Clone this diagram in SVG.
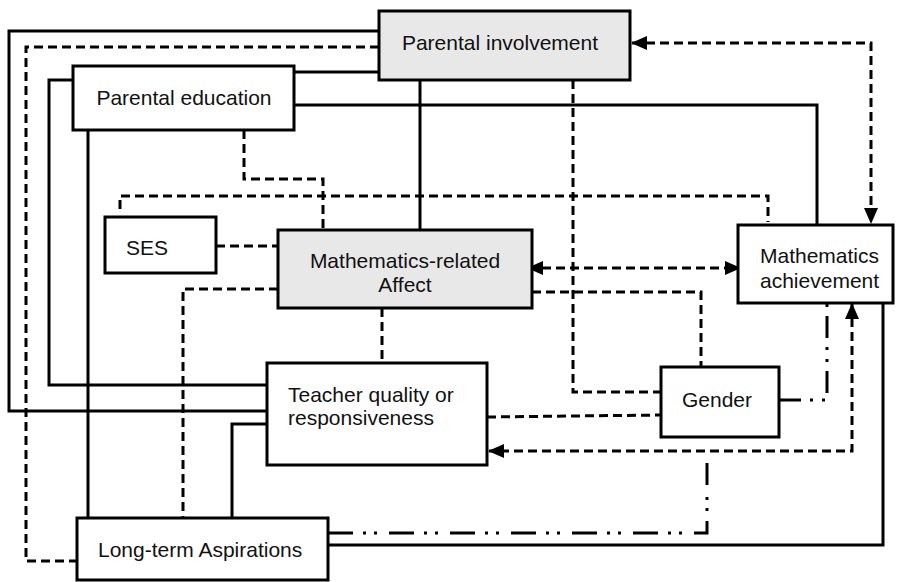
<svg xmlns="http://www.w3.org/2000/svg" width="898" height="582" viewBox="0 0 898 582">
<style>
  .box { fill: #ffffff; stroke: #000; stroke-width: 3; }
  .gray { fill: #e8e8e8; }
  .lbl { font-family: "Liberation Sans", Arial, sans-serif; font-size: 21px; fill: #111; }
  .solid { fill: none; stroke: #000; stroke-width: 3; }
  .dash { fill: none; stroke: #000; stroke-width: 3; stroke-dasharray: 9 5; }
  .dd { fill: none; stroke: #000; stroke-width: 3; stroke-dasharray: 22 9 3 9 3 9; }
  .ddd { fill: none; stroke: #000; stroke-width: 3; stroke-dasharray: 25 10 3 8 3 12; }
</style>
<defs>
  <marker id="arr" markerUnits="userSpaceOnUse" markerWidth="16" markerHeight="14" refX="15" refY="7" orient="auto-start-reverse">
    <path d="M0,0 L16,7 L0,14 Z" fill="#000"/>
  </marker>
</defs>
<rect width="898" height="582" fill="#fff"/>
<g id="connectors">
  <path class="solid" d="M379 31 H9 V411 H267"/>
  <path class="dash" d="M379 47 H26 V561 H77"/>
  <path class="solid" d="M294 72 H379"/>
  <path class="solid" d="M294 105 H817 V225"/>
  <path class="solid" d="M420 80 V230"/>
  <path class="dash" d="M573 80 V392 H661"/>
  <path class="dash" d="M632 43 H871 V223" marker-start="url(#arr)" marker-end="url(#arr)"/>
  <path class="solid" d="M73 80 H49 V385 H267"/>
  <path class="solid" d="M88 130 V518"/>
  <path class="dash" d="M244 130 V179 H323 V230"/>
  <path class="dash" d="M120 209 V196 H768 V222"/>
  <path class="dash" d="M216 246 H278"/>
  <path class="dash" d="M278 289 H183 V518"/>
  <path class="dash" d="M528 268 H740" marker-start="url(#arr)" marker-end="url(#arr)"/>
  <path class="dash" d="M532 292 H701 V367"/>
  <path class="dash" d="M382 308 V363"/>
  <path class="dash" d="M487 417 L661 415"/>
  <path class="dash" d="M852 304 V451 H489" marker-start="url(#arr)" marker-end="url(#arr)"/>
  <path class="solid" d="M883 303 V545 H328"/>
  <path class="dd" d="M779 400 H827 V303"/>
  <path class="ddd" d="M328 533 H707 V463"/>
  <path class="solid" d="M267 424 H232 V518"/>
</g>
<g id="parental-involvement">
  <rect class="box gray" x="379" y="11" width="251" height="69"/>
  <text class="lbl" x="500" y="50" text-anchor="middle">Parental involvement</text>
</g>
<g id="parental-education">
  <rect class="box" x="73" y="66" width="221" height="64"/>
  <text class="lbl" x="184" y="105" text-anchor="middle">Parental education</text>
</g>
<g id="ses">
  <rect class="box" x="105" y="217" width="111" height="56"/>
  <text class="lbl" x="126" y="255">SES</text>
</g>
<g id="math-affect">
  <rect class="box gray" x="278" y="230" width="254" height="78"/>
  <text class="lbl" x="405" y="268" text-anchor="middle">Mathematics-related</text>
  <text class="lbl" x="405" y="292" text-anchor="middle">Affect</text>
</g>
<g id="math-achievement">
  <rect class="box" x="738" y="225" width="155" height="78"/>
  <text class="lbl" x="760" y="263">Mathematics</text>
  <text class="lbl" x="760" y="288">achievement</text>
</g>
<g id="teacher-quality">
  <rect class="box" x="267" y="363" width="220" height="102"/>
  <text class="lbl" x="288" y="402">Teacher quality or</text>
  <text class="lbl" x="288" y="425">responsiveness</text>
</g>
<g id="gender">
  <rect class="box" x="661" y="367" width="118" height="70"/>
  <text class="lbl" x="682" y="407">Gender</text>
</g>
<g id="long-term-aspirations">
  <rect class="box" x="77" y="518" width="251" height="62"/>
  <text class="lbl" x="98" y="557">Long-term Aspirations</text>
</g>
</svg>
